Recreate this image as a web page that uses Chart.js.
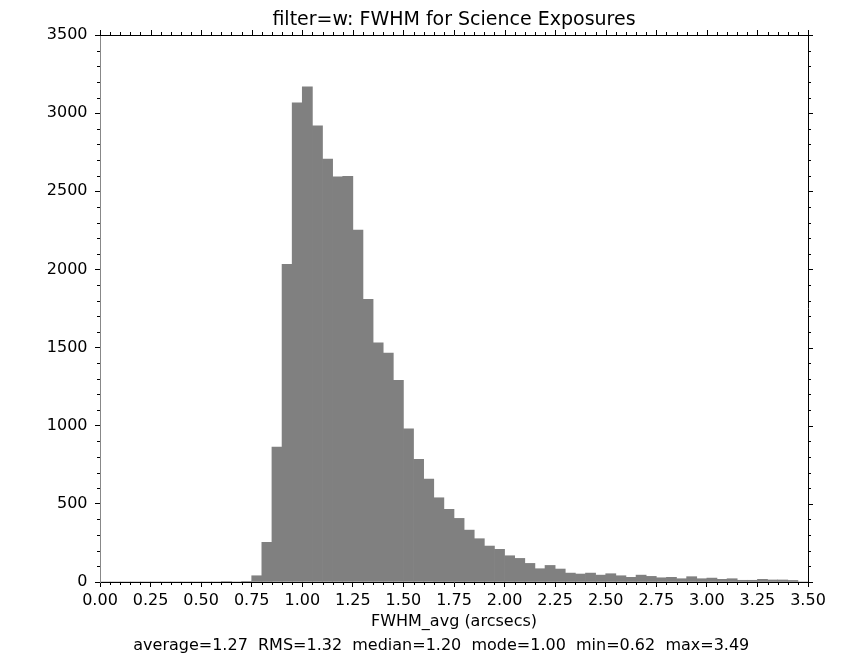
<!DOCTYPE html>
<html>
<head>
<meta charset="utf-8">
<script src="https://cdn.jsdelivr.net/npm/chart.js@4.4.1/dist/chart.umd.min.js"></script>
<style>
  html, body { margin: 0; padding: 0; background: #ffffff; }
  #wrap { width: 848px; height: 661px; }
</style>
</head>
<body>
<div id="wrap"><canvas id="c" width="848" height="661"></canvas></div>
<script>
// ---- data ----
const titleText = "filter=w: FWHM for Science Exposures";
const xAxisLabel = "FWHM_avg (arcsecs)";
const statsText = "average=1.27  RMS=1.32  median=1.20  mode=1.00  min=0.62  max=3.49";
const binWidth = 0.05;
const binStarts = [
  0.00, 0.05, 0.10, 0.15, 0.20, 0.25, 0.30, 0.35, 0.40, 0.45,
  0.50, 0.55, 0.60, 0.65, 0.70, 0.75, 0.80, 0.85, 0.90, 0.95,
  1.00, 1.05, 1.10, 1.15, 1.20, 1.25, 1.30, 1.35, 1.40, 1.45,
  1.50, 1.55, 1.60, 1.65, 1.70, 1.75, 1.80, 1.85, 1.90, 1.95,
  2.00, 2.05, 2.10, 2.15, 2.20, 2.25, 2.30, 2.35, 2.40, 2.45,
  2.50, 2.55, 2.60, 2.65, 2.70, 2.75, 2.80, 2.85, 2.90, 2.95,
  3.00, 3.05, 3.10, 3.15, 3.20, 3.25, 3.30, 3.35, 3.40, 3.45
];
const counts = [
  0, 0, 0, 0, 0, 0, 0, 0, 0, 0,
  0, 0, 3, 0, 4, 40, 254, 863, 2032, 3066,
  3169, 2919, 2706, 2593, 2596, 2252, 1808, 1531, 1465, 1290,
  980, 785, 659, 539, 465, 407, 332, 277, 230, 209,
  168, 151, 119, 85, 106, 83, 57, 51, 57, 44,
  53, 40, 30, 44, 36, 27, 30, 21, 34, 21,
  25, 17, 21, 11, 11, 17, 13, 13, 10, 0
];
const xMin = 0, xMax = 3.5, xMajorStep = 0.25, xMinorStep = 0.05;
const yMin = 0, yMax = 3500, yMajorStep = 500, yMinorStep = 100;

// ---- chart ----
const FONT = "'DejaVu Sans', sans-serif";
const points = binStarts.map((s, i) => ({ x: s + binWidth / 2, y: counts[i] }));

const frameTicks = {
  id: 'frameTicks',
  afterDraw(chart) {
    const { ctx, chartArea: a, scales: { x, y } } = chart;
    ctx.save();
    ctx.strokeStyle = '#000';
    ctx.lineWidth = 1;
    ctx.beginPath();
    // top & right spines
    ctx.moveTo(a.left, Math.round(a.top) + 0.5);
    ctx.lineTo(a.right + 1, Math.round(a.top) + 0.5);
    ctx.moveTo(Math.round(a.right) + 0.5, a.top);
    ctx.lineTo(Math.round(a.right) + 0.5, a.bottom);
    const nx = Math.round((xMax - xMin) / xMinorStep);
    for (let i = 0; i <= nx; i++) {
      const v = xMin + i * xMinorStep;
      const px = Math.round(x.getPixelForValue(v)) + 0.5;
      const major = (i % Math.round(xMajorStep / xMinorStep)) === 0;
      const len = major ? 5 : 3;
      if (!major) { ctx.moveTo(px, a.bottom); ctx.lineTo(px, a.bottom + len); }
      ctx.moveTo(px, a.top); ctx.lineTo(px, a.top - len);
    }
    const ny = Math.round((yMax - yMin) / yMinorStep);
    for (let i = 0; i <= ny; i++) {
      const v = yMin + i * yMinorStep;
      const py = Math.round(y.getPixelForValue(v)) + 0.5;
      const major = (i % Math.round(yMajorStep / yMinorStep)) === 0;
      const len = major ? 5 : 3;
      if (!major) { ctx.moveTo(a.left, py); ctx.lineTo(a.left - len, py); }
      ctx.moveTo(a.right, py); ctx.lineTo(a.right + len, py);
    }
    ctx.stroke();
    ctx.restore();
  }
};

new Chart(document.getElementById('c'), {
  type: 'bar',
  data: {
    datasets: [{
      data: points,
      backgroundColor: '#808080',
      borderWidth: 0,
      barPercentage: 1.0,
      categoryPercentage: 1.0
    }]
  },
  options: {
    responsive: false,
    animation: false,
    devicePixelRatio: 1,
    layout: { padding: { left: 0, right: 40, top: 0, bottom: 0 } },
    plugins: {
      legend: { display: false },
      tooltip: { enabled: false },
      title: {
        display: true, text: titleText, fullSize: false,
        color: '#000', font: { family: FONT, size: 19, weight: 'normal', lineHeight: 1.2 },
        padding: { top: 8.6, bottom: 3.6 }
      },
      subtitle: {
        display: true, position: 'bottom', text: statsText + '     ', fullSize: false,
        color: '#000', font: { family: FONT, size: 16, weight: 'normal', lineHeight: 1.2 },
        padding: { top: 2.4, bottom: 5.4 }
      }
    },
    scales: {
      x: {
        type: 'linear', min: xMin, max: xMax, offset: false,
        grid: { display: true, drawOnChartArea: false, drawTicks: true, tickLength: 5, color: '#000', offset: false },
        border: { display: true, color: '#000', width: 1 },
        ticks: {
          stepSize: xMajorStep, padding: 4.4, color: '#000', maxRotation: 0, autoSkip: false,
          font: { family: FONT, size: 16, lineHeight: 1.2 },
          callback: (v) => Number(v).toFixed(2)
        },
        title: {
          display: true, text: xAxisLabel, color: '#000',
          font: { family: FONT, size: 16, lineHeight: 1.2 },
          padding: { top: 0, bottom: 2.9 }
        },
        afterFit(s) { s.height = 52; }
      },
      y: {
        type: 'linear', min: yMin, max: yMax,
        grid: { display: true, drawOnChartArea: false, drawTicks: true, tickLength: 5, color: '#000' },
        border: { display: true, color: '#888', width: 1 },
        ticks: {
          stepSize: yMajorStep, padding: 7.5, color: '#000',
          font: { family: FONT, size: 16, lineHeight: 1.2 },
          callback: (v) => String(v)
        },
        afterFit(s) { s.width = 100; }
      }
    }
  },
  plugins: [frameTicks]
});
</script>
</body>
</html>
